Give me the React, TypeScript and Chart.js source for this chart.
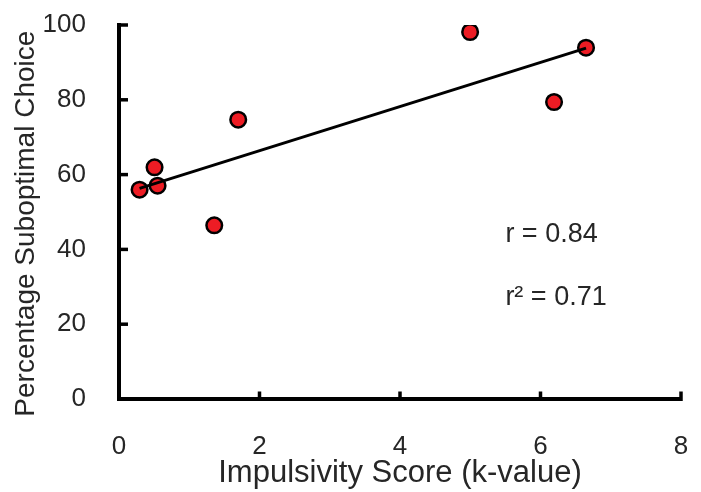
import React, { useEffect, useRef } from "react";
import { Chart, registerables } from "chart.js";

Chart.register(...registerables);

// Data
const impulsivity = [0.293, 0.506, 0.549, 1.356, 1.697, 4.998, 6.193, 6.648];
const suboptimal = [55.96, 61.95, 57.03, 46.44, 74.68, 98.13, 79.41, 93.93];
const trendX = [0.293, 6.648];
const trendY = [56.3, 93.8];
const xTicks = [0, 2, 4, 6, 8];
const yTicks = [0, 20, 40, 60, 80, 100];
const statLabels = ["r = 0.84", "r\u00B2 = 0.71"];
const statX = [5.5, 5.5];
const statY = [44, 27];

const FONT = "'Liberation Sans', Arial, Helvetica, sans-serif";
const TEXT = "#262626";

const innerTicks = {
  id: "innerTicks",
  afterDraw(chart: any) {
    const { ctx } = chart;
    const x = chart.scales.x;
    const y = chart.scales.y;
    const x0 = x.getPixelForValue(xTicks[0]);
    const y0 = y.getPixelForValue(yTicks[0]);
    ctx.save();
    ctx.strokeStyle = "#000";
    ctx.lineWidth = 3.5;
    ctx.lineCap = "butt";
    yTicks.slice(1).forEach((v) => {
      const py = y.getPixelForValue(v);
      ctx.beginPath();
      ctx.moveTo(x0 - 2, py);
      ctx.lineTo(x0 + 9, py);
      ctx.stroke();
    });
    xTicks.slice(1).forEach((v) => {
      const px = x.getPixelForValue(v);
      ctx.beginPath();
      ctx.moveTo(px, y0 + 2);
      ctx.lineTo(px, y0 - 7.5);
      ctx.stroke();
    });
    ctx.fillStyle = "#000";
    ctx.fillRect(x0 - 2, y0 - 2, 4, 4);
    ctx.fillStyle = TEXT;
    ctx.font = `27px ${FONT}`;
    ctx.textAlign = "left";
    ctx.textBaseline = "middle";
    statLabels.forEach((t, i) => {
      ctx.fillText(t, x.getPixelForValue(statX[i]), y.getPixelForValue(statY[i]));
    });
    ctx.restore();
  },
};

export default function App() {
  const ref = useRef<HTMLCanvasElement | null>(null);

  useEffect(() => {
    document.body.style.margin = "0";
    if (!ref.current) return;
    const chart = new Chart(ref.current, {
      type: "scatter",
      data: {
        datasets: [
          {
            label: "trend",
            data: trendX.map((v, i) => ({ x: v, y: trendY[i] })),
            showLine: true,
            borderColor: "#000",
            borderWidth: 3,
            pointRadius: 0,
            fill: false,
            order: 0,
          } as any,
          {
            label: "subjects",
            data: impulsivity.map((v, i) => ({ x: v, y: suboptimal[i] })),
            pointRadius: 7.8,
            pointBackgroundColor: "#ED1C24",
            pointBorderColor: "#000",
            pointBorderWidth: 2.5,
            backgroundColor: "#ED1C24",
            borderColor: "#000",
            order: 1,
          } as any,
        ],
      },
      options: {
        animation: false,
        responsive: false,
        maintainAspectRatio: false,
        layout: { padding: { top: 25, right: 20, bottom: 0, left: 0 } },
        plugins: {
          legend: { display: false },
          tooltip: { enabled: false },
        },
        scales: {
          x: {
            type: "linear",
            min: 0,
            max: 8,
            afterFit: (s: any) => {
              s.height = 93;
              s.paddingLeft = 0;
              s.paddingRight = 0;
            },
            ticks: {
              stepSize: 2,
              padding: 24,
              color: TEXT,
              font: { family: FONT, size: 26 },
            },
            grid: { display: false },
            border: { display: true, color: "#000", width: 4 },
            title: {
              display: true,
              text: "Impulsivity Score (k-value)",
              color: TEXT,
              font: { family: FONT, size: 31 },
              padding: { top: 0, bottom: 0 },
            },
          },
          y: {
            type: "linear",
            min: 0,
            max: 100,
            afterFit: (s: any) => {
              s.width = 119;
              s.paddingTop = 0;
              s.paddingBottom = 0;
            },
            ticks: {
              stepSize: 20,
              padding: 25,
              color: TEXT,
              font: { family: FONT, size: 26 },
            },
            grid: { display: false },
            border: { display: true, color: "#000", width: 4 },
            title: {
              display: true,
              text: "Percentage Suboptimal Choice   ",
              color: TEXT,
              font: { family: FONT, size: 28 },
              padding: { top: 9, bottom: 0 },
            },
          },
        },
      } as any,
      plugins: [innerTicks],
    });
    return () => chart.destroy();
  }, []);

  return (
    <div style={{ width: 701, height: 492 }}>
      <canvas ref={ref} width={701} height={492} style={{ display: "block" }} />
    </div>
  );
}
